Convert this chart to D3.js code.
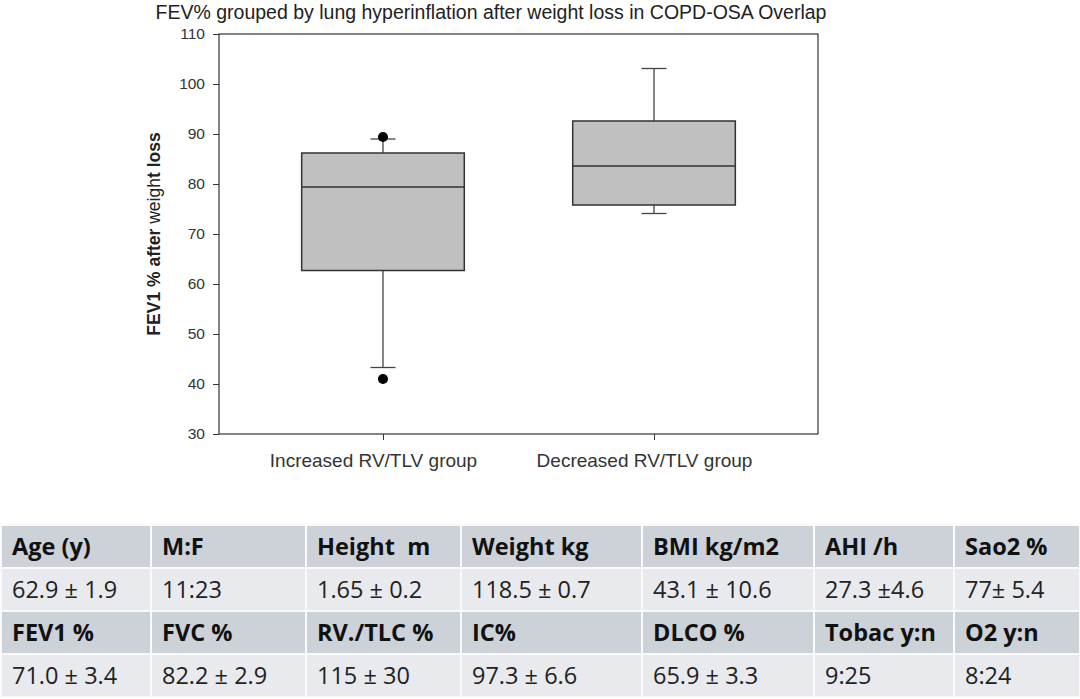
<!DOCTYPE html>
<html lang="en">
<head>
<meta charset="UTF-8">
<title>FEV% box plot</title>
<script src="https://d3js.org/d3.v7.min.js"></script>
<style>
  body { margin: 0; background: #fff; }
</style>
</head>
<body>
<svg width="1080" height="699"></svg>
<script>
// data
var groups = ["Increased RV/TLV group", "Decreased RV/TLV group"];
var whiskerLow = [43.3, 74.1];
var q1 = [62.7, 75.8];
var median = [79.4, 83.6];
var q3 = [86.2, 92.6];
var whiskerHigh = [89.0, 103.1];
var outliers = [[89.4, 41.0], []];
var yTicks = [30, 40, 50, 60, 70, 80, 90, 100, 110];

var headRow1 = ["Age (y)", "M:F", "Height  m", "Weight kg", "BMI kg/m2", "AHI /h", "Sao2 %"];
var valRow1 = ["62.9 \u00b1 1.9", "11:23", "1.65 \u00b1 0.2", "118.5 \u00b1 0.7", "43.1 \u00b1 10.6", "27.3 \u00b14.6", "77\u00b1 5.4"];
var headRow2 = ["FEV1 %", "FVC %", "RV./TLC %", "IC%", "DLCO %", "Tobac y:n", "O2 y:n"];
var valRow2 = ["71.0 \u00b1 3.4", "82.2 \u00b1 2.9", "115 \u00b1 30", "97.3 \u00b1 6.6", "65.9 \u00b1 3.3", "9:25", "8:24"];
var colEdges = [1, 151, 306, 461, 642, 814, 954, 1080];

var svg = d3.select("svg");
var plotL = 219, plotR = 818, plotT = 34, plotB = 434;

var y = d3.scaleLinear().domain([30, 110]).range([plotB, plotT]);
var x = d3.scalePoint().domain(groups).range([plotL, plotR]).padding(0.605);
var boxW = x.step() * 0.6;
var capW = 25;

// title
svg.append("text")
  .attr("x", 491).attr("y", 19)
  .attr("text-anchor", "middle")
  .style("font-family", "Liberation Sans, Arial, sans-serif")
  .style("font-size", "19.5px")
  .style("fill", "#222")
  .text("FEV% grouped by lung hyperinflation after weight loss in COPD-OSA Overlap");

// frame
svg.append("rect")
  .attr("x", plotL).attr("y", plotT)
  .attr("width", plotR - plotL).attr("height", plotB - plotT)
  .attr("fill", "none").attr("stroke", "#333").attr("stroke-width", 1.2);

var yAxis = svg.append("g")
  .attr("transform", "translate(" + plotL + ",0)")
  .call(d3.axisLeft(y).tickValues(yTicks).tickSize(6).tickPadding(8));
yAxis.select(".domain").remove();
yAxis.selectAll("line").attr("stroke", "#333");
yAxis.selectAll("text")
  .style("font-family", "Liberation Sans, Arial, sans-serif")
  .style("font-size", "15.5px").style("fill", "#333");

var xAxis = svg.append("g")
  .attr("transform", "translate(0," + plotB + ")")
  .call(d3.axisBottom(x).tickSize(6).tickPadding(14));
xAxis.select(".domain").remove();
xAxis.selectAll("line").attr("stroke", "#333");
xAxis.selectAll("text")
  .attr("dx", -10)
  .style("font-family", "Liberation Sans, Arial, sans-serif")
  .style("font-size", "19px").style("fill", "#333");

// y label with the mixed weight of the original
var yl = svg.append("text")
  .attr("transform", "translate(160," + ((plotT + plotB) / 2) + ") rotate(-90)")
  .attr("text-anchor", "middle")
  .style("font-family", "Liberation Sans, Arial, sans-serif")
  .style("font-size", "17.5px").style("fill", "#222");
yl.append("tspan").style("font-weight", "bold").text("FEV1 % after ");
yl.append("tspan").text("weigh");
yl.append("tspan").style("font-weight", "bold").text("t loss");

// boxes
var boxes = svg.append("g").selectAll("g")
  .data(groups).enter().append("g");

boxes.append("line")
  .attr("x1", d => x(d)).attr("x2", d => x(d))
  .attr("y1", (d, i) => y(whiskerHigh[i])).attr("y2", (d, i) => y(q3[i]))
  .attr("stroke", "#444").attr("stroke-width", 1.3);
boxes.append("line")
  .attr("x1", d => x(d)).attr("x2", d => x(d))
  .attr("y1", (d, i) => y(q1[i])).attr("y2", (d, i) => y(whiskerLow[i]))
  .attr("stroke", "#444").attr("stroke-width", 1.3);
[whiskerHigh, whiskerLow].forEach(function (arr) {
  boxes.append("line")
    .attr("x1", d => x(d) - capW / 2).attr("x2", d => x(d) + capW / 2)
    .attr("y1", (d, i) => y(arr[i])).attr("y2", (d, i) => y(arr[i]))
    .attr("stroke", "#444").attr("stroke-width", 1.3);
});
boxes.append("rect")
  .attr("x", d => x(d) - boxW / 2).attr("width", boxW)
  .attr("y", (d, i) => y(q3[i])).attr("height", (d, i) => y(q1[i]) - y(q3[i]))
  .attr("fill", "#c0c0c0").attr("stroke", "#333").attr("stroke-width", 1.5);
boxes.append("line")
  .attr("x1", d => x(d) - boxW / 2).attr("x2", d => x(d) + boxW / 2)
  .attr("y1", (d, i) => y(median[i])).attr("y2", (d, i) => y(median[i]))
  .attr("stroke", "#333").attr("stroke-width", 1.5);

boxes.each(function (d, i) {
  d3.select(this).selectAll("circle")
    .data(outliers[i]).enter().append("circle")
    .attr("cx", x(d)).attr("cy", v => y(v))
    .attr("r", 5).attr("fill", "#000");
});

// table below
var rowEdges = [525, 568, 611, 654, 697];
var rows = [
  { cells: headRow1, head: true },
  { cells: valRow1, head: false },
  { cells: headRow2, head: true },
  { cells: valRow2, head: false }
];
var table = svg.append("g");
rows.forEach(function (row, r) {
  row.cells.forEach(function (txt, c) {
    table.append("rect")
      .attr("x", colEdges[c]).attr("y", rowEdges[r])
      .attr("width", colEdges[c + 1] - colEdges[c])
      .attr("height", rowEdges[r + 1] - rowEdges[r])
      .attr("fill", row.head ? "#cdd1d8" : "#e8eaee")
      .attr("stroke", "#fafafa").attr("stroke-width", 2);
    table.append("text")
      .attr("x", colEdges[c] + 11)
      .attr("y", rowEdges[r] + 30)
      .style("font-family", "Open Sans, sans-serif")
      .style("font-size", "23.5px")
      .style("white-space", "pre")
      .style("font-weight", row.head ? "bold" : "normal")
      .style("fill", row.head ? "#111" : "#222")
      .text(txt);
  });
});
</script>
</body>
</html>
